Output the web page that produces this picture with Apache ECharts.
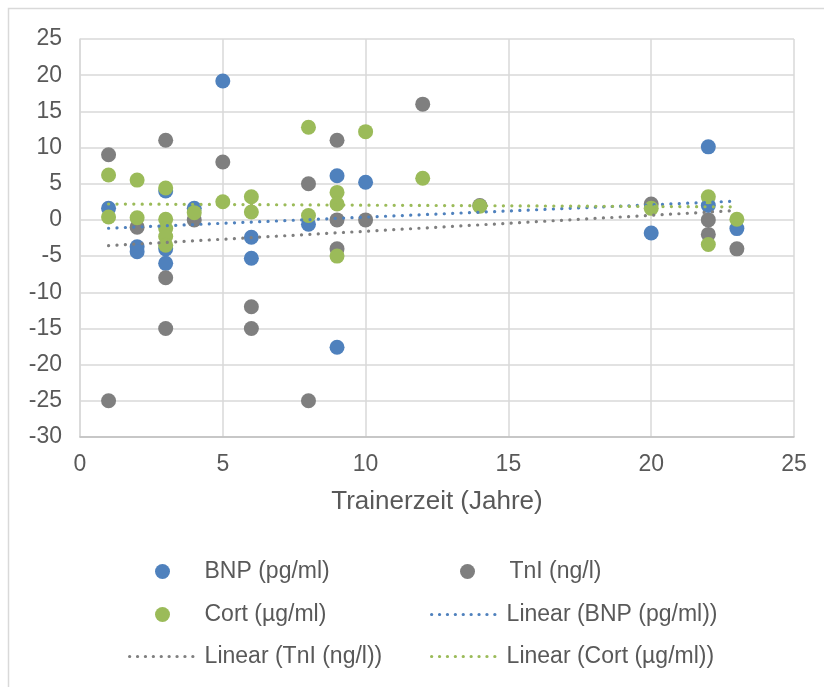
<!DOCTYPE html>
<html>
<head>
<meta charset="utf-8">
<script src="https://cdn.jsdelivr.net/npm/echarts@6/dist/echarts.min.js"></script>
<style>
  html, body { margin: 0; padding: 0; background: #fff; }
  #main { width: 824px; height: 687px; }
</style>
</head>
<body>
<div id="main"></div>
<script>
// Trainerzeit (Jahre) vs. change of each marker
var bnp = [[1, 1.6], [2, -3.7], [2, -4.4], [3, 4.0], [3, -4.0], [3, -6.0], [4, 1.6], [5, 19.2],
	[6, -2.4], [6, -5.3], [8, -0.6], [9, 6.1], [9, -17.6], [10, 5.2], [20, -1.8], [22, 10.1], [22, 2.0], [23, -1.2]];
var tni = [[1, 9], [1, -25], [2, -1], [3, 11], [3, -8], [3, -15], [4, 0], [5, 8], [6, -12], [6, -15],
	[8, 5], [8, -25], [9, 11], [9, 0], [9, -4], [10, 0], [12, 16], [14, 2], [20, 2.2], [22, 0], [22, -2], [23, -4]];
var cort = [[1, 6.2], [1, 0.4], [2, 5.5], [2, 0.3], [3, 4.4], [3, 0.1], [3, -1.2], [3, -2.3], [3, -3.5],
	[4, 1.0], [5, 2.5], [6, 3.2], [6, 1.1], [8, 12.8], [8, 0.6], [9, 3.8], [9, 2.2], [9, -5.0],
	[10, 12.2], [12, 5.75], [14, 1.9], [20, 1.6], [22, 3.2], [22, -3.4], [23, 0.1]];

// trend line ends
var trendX = [1, 23];
var bnpTrend = [-1.15, 2.6];
var tniTrend = [-3.55, 1.3];
var cortTrend = [2.2, 1.8];

var xTicks = { min: 0, max: 25, step: 5 };
var yTicks = { min: -30, max: 25, step: 5 };

var blue = '#4F81BD', gray = '#7F7F7F', green = '#9BBB59';
var font = '"Liberation Sans", Arial, sans-serif';

function trend(ys) {
	return trendX.map(function (x, i) { return [x, ys[i]]; });
}

function scatter(name, data, color, z) {
	return {
		name: name, type: 'scatter', data: data, symbolSize: 15, z: z,
		itemStyle: { color: color, opacity: 1 }
	};
}

function trendLine(name, ys, color) {
	return {
		name: name, type: 'line', data: trend(ys), showSymbol: false, symbol: 'none', z: 10,
		color: color,
		lineStyle: { color: color, width: 3.2, type: [0.1, 8.3], cap: 'round' }
	};
}

function legendAt(name, left, top, w, isLine) {
	var l = {
		data: [name], left: left, top: top, padding: 0,
		itemWidth: w, itemHeight: 15, selectedMode: false,
		textStyle: { fontFamily: font, fontSize: 23, color: '#595959' }
	};
	if (isLine) {
		// hide the marker that echarts puts in the middle of a line icon
		l.itemStyle = { opacity: 0, color: 'rgba(0,0,0,0)', borderWidth: 0 };
		l.lineStyle = { width: 3.2, type: [0.1, 7.8], cap: 'round' };
	}
	return l;
}

var option = {
	animation: false,
	grid: { left: 80, right: 30, top: 39, bottom: 250 },
	graphic: [{
		type: 'rect', silent: true,
		shape: { x: 8.5, y: 8.5, width: 830, height: 700 },
		style: { fill: null, stroke: '#D9D9D9', lineWidth: 1.5 }
	}],
	legend: [
		legendAt('BNP (pg/ml)', 155, 560, 74),
		legendAt('TnI (ng/l)', 460, 560, 74),
		legendAt('Cort (µg/ml)', 155, 603, 74),
		legendAt('Linear (BNP (pg/ml))', 430, 603, 70, true),
		legendAt('Linear (TnI (ng/l))', 128, 645, 70, true),
		legendAt('Linear (Cort (µg/ml))', 430, 645, 70, true)
	],
	xAxis: [{
		type: 'value', min: xTicks.min, max: xTicks.max, interval: xTicks.step,
		name: 'Trainerzeit (Jahre)', nameLocation: 'middle', nameGap: 52,
		nameTextStyle: { fontFamily: font, fontSize: 26, color: '#595959' },
		axisLine: { show: false }, axisTick: { show: false },
		axisLabel: { fontFamily: font, fontSize: 23, color: '#595959', margin: 16 },
		splitLine: { show: true, lineStyle: { color: '#D9D9D9', width: 1.5 } }
	}, {
		// axis line crossing at y = 0
		type: 'value', min: xTicks.min, max: xTicks.max, position: 'bottom',
		axisLine: { show: true, onZero: true, lineStyle: { color: '#BFBFBF', width: 1.5 } },
		axisTick: { show: false }, axisLabel: { show: false }, splitLine: { show: false }
	}],
	yAxis: {
		type: 'value', min: yTicks.min, max: yTicks.max, interval: yTicks.step,
		axisLine: { show: true, lineStyle: { color: '#D9D9D9', width: 1.5 } },
		axisTick: { show: false },
		axisLabel: { fontFamily: font, fontSize: 23, color: '#595959', margin: 18 },
		splitLine: { show: true, lineStyle: { color: '#D9D9D9', width: 1.5 } }
	},
	series: [
		scatter('BNP (pg/ml)', bnp, blue, 2),
		scatter('TnI (ng/l)', tni, gray, 3),
		scatter('Cort (µg/ml)', cort, green, 4),
		trendLine('Linear (BNP (pg/ml))', bnpTrend, blue),
		trendLine('Linear (TnI (ng/l))', tniTrend, gray),
		trendLine('Linear (Cort (µg/ml))', cortTrend, green)
	]
};

var myChart = echarts.init(document.getElementById('main'));
myChart.setOption(option);
</script>
</body>
</html>
